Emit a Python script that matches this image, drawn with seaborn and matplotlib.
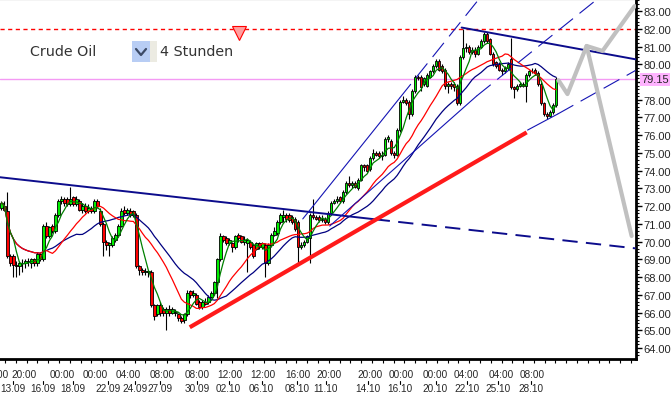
import numpy as np
import pandas as pd
import seaborn as sns
import matplotlib.pyplot as plt
from matplotlib.ticker import MultipleLocator, NullFormatter
from matplotlib.patches import Rectangle
from matplotlib.lines import Line2D

# 4h candles, Crude Oil, 13.09 - 28.10
opens = [71.9, 72.0, 71.7, 69.2, 69.2, 68.7, 68.6, 68.8, 68.8, 68.9,
         68.8, 69.0, 68.8, 69.3, 69.0, 70.9, 70.3, 70.9, 70.6, 71.5,
         72.3, 72.4, 72.4, 72.1, 72.5, 72.1, 72.3, 71.8, 72.0, 71.7,
         71.9, 71.7, 72.3, 71.7, 71.0, 70.0, 69.8, 69.8, 70.1, 70.4,
         70.9, 71.8, 71.6, 71.7, 71.7, 71.5, 68.6, 68.4, 68.3, 68.3,
         68.3, 66.4, 65.9, 66.4, 66.2, 66.0, 66.2, 66.0, 66.0, 65.9,
         65.7, 65.6, 65.9, 67.2, 67.0, 67.0, 66.6, 66.3, 66.6, 66.6,
         66.9, 67.1, 67.7, 69.0, 70.3, 70.2, 69.9, 69.9, 69.7, 70.4,
         70.3, 70.0, 69.9, 70.0, 69.8, 69.6, 69.9, 69.7, 69.8, 68.8,
         69.8, 70.4, 70.5, 71.1, 71.4, 71.5, 71.5, 71.4, 71.3, 71.1,
         69.7, 69.8, 70.0, 70.2, 71.5, 71.4, 71.4, 71.2, 71.3, 71.1,
         71.6, 72.2, 72.3, 72.5, 72.3, 72.8, 73.3, 73.2, 73.3, 73.0,
         73.5, 74.3, 74.3, 74.1, 74.7, 75.0, 75.0, 74.8, 74.9, 75.8,
         75.7, 75.0, 74.9, 76.3, 77.9, 78.0, 77.9, 77.2, 78.5, 79.3,
         79.3, 78.9, 78.8, 79.3, 79.6, 79.9, 80.2, 79.9, 79.7, 78.8,
         78.9, 78.9, 78.8, 77.8, 80.4, 80.9, 81.0, 80.7, 80.8, 80.6,
         81.0, 81.3, 81.7, 81.4, 80.6, 80.1, 80.0, 79.7, 79.6, 79.8,
         80.3, 78.7, 78.6, 78.8, 78.9, 78.8, 79.4, 79.6, 79.7, 79.5,
         78.9, 77.8, 77.2, 77.1, 77.3, 77.7]
highs = [72.3, 72.3, 72.8, 69.3, 69.3, 68.9, 68.9, 69.0, 69.0, 69.1,
         69.1, 69.1, 69.4, 69.4, 71.0, 71.1, 70.9, 71.0, 71.6, 72.4,
         72.6, 72.5, 72.5, 73.1, 72.6, 72.6, 72.4, 72.2, 72.2, 72.1,
         72.0, 72.4, 72.4, 71.9, 71.1, 70.1, 70.0, 70.3, 70.5, 71.0,
         71.9, 72.0, 71.9, 71.9, 71.8, 71.6, 68.7, 68.5, 68.5, 68.4,
         68.4, 66.5, 66.5, 66.6, 66.3, 66.3, 66.4, 66.3, 66.2, 66.0,
         65.8, 66.0, 67.3, 67.3, 67.3, 67.1, 66.7, 66.7, 66.8, 67.0,
         67.2, 67.8, 69.1, 70.5, 70.4, 70.3, 70.2, 70.0, 70.4, 70.5,
         70.4, 70.3, 70.2, 70.1, 69.9, 70.0, 70.0, 70.0, 69.9, 69.9,
         70.5, 70.8, 71.2, 71.6, 71.8, 71.6, 71.6, 71.5, 71.4, 71.2,
         70.0, 70.1, 70.4, 71.6, 72.4, 71.5, 71.5, 71.5, 71.4, 71.7,
         72.3, 72.4, 72.6, 72.6, 72.9, 73.4, 73.7, 73.4, 73.4, 73.6,
         74.4, 74.4, 74.4, 74.8, 75.2, 75.1, 75.1, 75.1, 75.9, 76.0,
         75.8, 75.1, 76.4, 78.0, 78.2, 78.1, 78.0, 78.6, 79.4, 79.4,
         79.4, 79.3, 79.5, 79.7, 80.0, 80.3, 80.3, 80.0, 79.8, 79.0,
         79.0, 79.0, 78.9, 80.5, 82.0, 81.2, 81.1, 81.0, 81.0, 81.1,
         81.4, 81.8, 81.8, 81.5, 80.7, 80.2, 80.1, 79.8, 79.9, 80.1,
         81.5, 78.8, 78.9, 79.0, 79.0, 79.5, 79.7, 79.8, 79.8, 79.6,
         79.0, 77.9, 77.3, 77.4, 77.8, 79.3]
lows = [71.8, 71.7, 69.1, 68.6, 68.0, 68.0, 68.1, 68.3, 68.5, 68.6,
        68.5, 68.6, 68.6, 68.9, 68.9, 70.2, 70.2, 70.5, 70.5, 71.4,
        72.1, 72.0, 72.0, 72.0, 72.0, 72.0, 71.7, 71.6, 71.6, 71.6,
        71.6, 71.6, 71.9, 70.9, 69.2, 69.5, 69.2, 69.7, 70.0, 70.3,
        70.8, 71.5, 71.5, 71.4, 71.4, 68.5, 68.1, 68.1, 68.1, 68.0,
        66.3, 65.6, 65.8, 65.8, 65.8, 65.0, 65.8, 65.9, 65.8, 65.5,
        65.4, 65.4, 65.8, 66.8, 66.9, 66.4, 66.2, 66.2, 66.4, 66.5,
        66.8, 67.0, 66.8, 68.9, 70.0, 69.8, 69.8, 69.4, 69.6, 70.0,
        69.9, 69.8, 68.3, 69.6, 69.1, 69.5, 69.6, 69.6, 68.0, 68.7,
        69.7, 70.3, 70.4, 71.0, 71.1, 71.1, 71.1, 71.0, 70.6, 68.8,
        69.6, 69.7, 69.9, 68.8, 71.3, 71.2, 71.1, 71.1, 71.0, 71.0,
        71.5, 72.1, 72.2, 72.2, 72.2, 72.7, 73.1, 73.0, 73.0, 72.9,
        73.4, 74.0, 73.9, 74.0, 74.6, 74.8, 74.7, 74.6, 74.8, 75.6,
        74.9, 74.7, 74.8, 76.2, 77.8, 77.7, 76.9, 77.1, 78.4, 79.1,
        78.5, 78.8, 78.7, 79.2, 79.5, 79.8, 79.6, 79.5, 78.6, 78.4,
        78.6, 78.5, 77.7, 77.7, 80.3, 80.7, 80.6, 80.6, 80.4, 80.5,
        80.9, 81.2, 81.2, 80.5, 79.9, 79.8, 79.6, 79.4, 79.5, 79.7,
        78.6, 78.1, 78.5, 78.7, 78.7, 77.9, 79.3, 79.5, 79.4, 78.8,
        77.7, 77.1, 76.9, 77.0, 77.2, 77.6]
closes = [72.2, 71.8, 69.2, 68.8, 68.7, 68.6, 68.8, 68.8, 68.9, 68.9,
          69.0, 68.8, 69.3, 69.0, 70.9, 70.3, 70.8, 70.6, 71.5, 72.3,
          72.4, 72.2, 72.1, 72.4, 72.1, 72.4, 71.8, 72.0, 71.7, 71.9,
          71.7, 72.3, 72.0, 71.0, 70.0, 69.8, 69.9, 70.2, 70.4, 70.9,
          71.7, 71.6, 71.8, 71.5, 71.5, 68.6, 68.4, 68.3, 68.3, 68.3,
          66.4, 65.8, 66.4, 66.0, 66.0, 66.2, 66.0, 66.2, 66.0, 65.7,
          65.5, 65.9, 67.1, 67.0, 67.1, 66.5, 66.3, 66.6, 66.5, 66.9,
          67.1, 67.7, 69.0, 70.3, 70.1, 69.9, 70.1, 69.7, 70.3, 70.2,
          70.0, 70.1, 70.1, 69.7, 69.2, 69.9, 69.7, 69.9, 68.8, 69.8,
          70.4, 70.6, 71.1, 71.5, 71.5, 71.3, 71.2, 71.1, 70.7, 69.7,
          69.8, 70.0, 70.3, 71.5, 71.4, 71.3, 71.2, 71.3, 71.1, 71.6,
          72.2, 72.3, 72.4, 72.3, 72.8, 73.3, 73.2, 73.3, 73.1, 73.5,
          74.3, 74.2, 74.0, 74.7, 75.0, 74.9, 74.8, 74.9, 75.8, 75.9,
          75.0, 74.9, 76.3, 77.9, 78.0, 77.8, 77.2, 78.5, 79.3, 79.2,
          78.7, 79.2, 79.4, 79.6, 79.9, 80.2, 79.7, 79.6, 78.8, 78.9,
          78.8, 78.7, 77.8, 80.4, 80.9, 81.0, 80.7, 80.8, 80.6, 81.0,
          81.3, 81.7, 81.3, 80.6, 80.0, 79.9, 79.7, 79.6, 79.8, 80.0,
          78.7, 78.6, 78.8, 78.9, 78.8, 79.4, 79.6, 79.6, 79.5, 78.9,
          77.8, 77.2, 77.1, 77.3, 77.7, 79.15]

# x-axis labels (candle index positions)
time_labels = ["00:00", "20:00", "00:00", "00:00", "04:00", "08:00", "08:00", "12:00", "12:00",
               "16:00", "20:00", "20:00", "00:00", "00:00", "04:00", "04:00", "08:00"]
time_pos = [-1.8, 7.5, 20.2, 31.2, 42.2, 53.5, 65.2, 76.2, 87.2, 98.8, 109.2, 122.8, 133.5,
            144.8, 155.2, 166.8, 177.2]
date_labels = ["13.09", "16.09", "18.09", "22.09", "24.09", "27.09", "30.09", "02.10", "06.10",
               "08.10", "11.10", "14.10", "16.10", "20.10", "22.10", "25.10", "28.10"]
date_pos = [3.8, 13.8, 23.8, 35.5, 44.6, 52.8, 65.2, 75.8, 86.8, 98.5, 108.2, 122.2, 132.8,
            144.8, 155.2, 165.5, 176.8]

# drawn lines (index, price)
downtrend_x, downtrend_y = [-0.5, 124.5, 211.5], [73.63, 71.26, 69.62]
support_x, support_y = [62.8, 175.2], [65.17, 76.16]
chan_up_x, chan_up_y = [100.5, 132.8, 159.3], [71.28, 78.09, 83.68]
chan_lo_x, chan_lo_y = [109.5, 158.5, 198.8], [70.88, 78.21, 83.68]
resist_x, resist_y = [153.5, 211.5], [82.07, 80.28]
lower_x, lower_y = [175.5, 185.5, 211.5], [76.29, 77.19, 79.65]
proj_x, proj_y = [185.8, 188.8, 195.2, 200.5, 211.2], [79.1, 78.32, 81.03, 80.75, 83.28]
proj2_x, proj2_y = [195.2, 210.2], [81.03, 70.32]

last_price = 79.15
alert_price = 82.0
alert_x = 79.3

sns.set_style("white")
plt.rcParams['font.family'] = ['Liberation Sans', 'DejaVu Sans']
plt.rcParams['lines.scale_dashes'] = False

df = pd.DataFrame({'open': opens, 'high': highs, 'low': lows, 'close': closes})
df['idx'] = np.arange(len(df))
df['ma_fast'] = df['close'].rolling(5, min_periods=1).mean()
df['ma_mid'] = df['close'].rolling(16, min_periods=1).mean()
df['ma_slow'] = df['close'].rolling(26, min_periods=1).mean()

fig = plt.figure(figsize=(6.71, 4.02), dpi=100)
ax = fig.add_axes([0, 1 - 359.5 / 402, 635.5 / 671, 359.5 / 402])

ax.axhline(last_price, color='#f49af4', lw=1, zorder=1)
ax.axhline(alert_price, color='#ff0000', lw=1, dashes=(3, 2.5), zorder=1)

# candles
up = df['close'] >= df['open']
ax.vlines(df['idx'], df['low'], df['high'], color='black', lw=0.8, zorder=2)
body = (df['close'] - df['open']).where((df['close'] - df['open']).abs() > 0.02, 0.02)
ax.bar(df['idx'], body, bottom=df['open'], width=0.82,
       color=np.where(up, '#00ee00', '#ff0000'), edgecolor='black', linewidth=0.6, zorder=3)

# moving averages
sns.lineplot(data=df, x='idx', y='ma_slow', color='#000080', lw=0.9, ax=ax, zorder=4)
sns.lineplot(data=df, x='idx', y='ma_mid', color='#ff0000', lw=0.9, ax=ax, zorder=4)
sns.lineplot(data=df, x='idx', y='ma_fast', color='#008000', lw=0.9, ax=ax, zorder=4)

# trend lines
navy = '#0c0c8c'
blue = '#1414b4'
ax.plot(downtrend_x[:2], downtrend_y[:2], color=navy, lw=1.4, zorder=5)
ax.plot(downtrend_x[1:], downtrend_y[1:], color=navy, lw=1.4, dashes=(11, 6), zorder=5)
ax.plot(chan_up_x[:2], chan_up_y[:2], color=blue, lw=0.8, zorder=5)
ax.plot(chan_up_x[1:], chan_up_y[1:], color=blue, lw=0.8, dashes=(13, 6), zorder=5)
ax.plot(chan_lo_x[:2], chan_lo_y[:2], color=blue, lw=0.8, zorder=5)
ax.plot(chan_lo_x[1:], chan_lo_y[1:], color=blue, lw=0.8, dashes=(13, 6), zorder=5)
ax.plot(resist_x, resist_y, color=navy, lw=1.4, zorder=5)
ax.plot(lower_x[:2], lower_y[:2], color=blue, lw=0.8, zorder=5)
ax.plot(lower_x[1:], lower_y[1:], color=blue, lw=0.8, dashes=(13, 6), zorder=5)
ax.plot(support_x, support_y, color='#ff1a1a', lw=3, solid_capstyle='butt', zorder=6)
ax.plot(proj_x, proj_y, color='#c0c0c0', lw=3, zorder=6)
ax.plot(proj2_x, proj2_y, color='#c0c0c0', lw=3, zorder=6)

ax.plot([alert_x], [81.76], marker='v', ms=10, mfc='#ffa0a0', mec='#ff0000', mew=0.8,
        linestyle='none', zorder=7)

ax.set_xlim(-0.5, 211.5)
ax.set_ylim(63.41, 83.68)
ax.set_xlabel('')
ax.set_ylabel('')

# axes frame
ax.spines['left'].set_visible(False)
for side, w in [('top', 1.5), ('right', 2), ('bottom', 2)]:
    ax.spines[side].set_color('black')
    ax.spines[side].set_linewidth(w)

# y axis on the right
ax.yaxis.tick_right()
yt = list(range(64, 84))
ax.set_yticks(yt)
ax.set_yticklabels(['' if v == 79 else f'{v:.2f}' for v in yt])
ax.yaxis.set_minor_locator(MultipleLocator(0.2))
ax.tick_params(axis='y', which='major', direction='out', length=4, width=1, color='black',
               labelsize=8, pad=1.5, right=True, left=False)
ax.tick_params(axis='y', which='minor', direction='out', length=2, width=0.8, color='black',
               right=True, left=False)
ax.text(1.009, last_price, f'{last_price:.2f}', transform=ax.get_yaxis_transform(),
        ha='left', va='center', fontsize=8,
        bbox=dict(boxstyle='square,pad=0.12', fc='#ffb3ff', ec='none'))

# x axis
ax.xaxis.set_major_locator(MultipleLocator(3.6, offset=1.2))
ax.xaxis.set_major_formatter(NullFormatter())
ax.tick_params(axis='x', direction='out', length=3, width=0.8, color='black', bottom=True)
xt = ax.get_xaxis_transform()
for lab, p in zip(time_labels, time_pos):
    ax.text(p, -0.0445, lab, transform=xt, ha='center', va='center', fontsize=7.2, clip_on=False)
for lab, p in zip(date_labels, date_pos):
    ax.text(p, -0.082, lab, transform=xt, ha='center', va='center', fontsize=7.2, clip_on=False)
    ax.plot([p, p], [-0.0625, -0.0705], transform=xt, color='black', lw=0.8, clip_on=False)

# header
fig.text(30 / 671, 1 - 52 / 402, 'Crude Oil', fontsize=10.3, color='#333333', va='center',
         family='DejaVu Sans')
fig.patches.append(Rectangle((132 / 671, 1 - 63 / 402), 18 / 671, 21 / 402,
                             transform=fig.transFigure, fc='#b8cdf4', ec='none'))
fig.patches.append(Rectangle((150 / 671, 1 - 63 / 402), 7 / 671, 21 / 402,
                             transform=fig.transFigure, fc='#ecebe2', ec='none'))
fig.lines.append(Line2D([136 / 671, 141 / 671, 146 / 671],
                        [1 - 50 / 402, 1 - 56 / 402, 1 - 50 / 402],
                        transform=fig.transFigure, color='#3c4a66', lw=1.6))
fig.text(160 / 671, 1 - 52 / 402, '4 Stunden', fontsize=10.3, color='#333333', va='center',
         family='DejaVu Sans')

fig.savefig('out.png', dpi=100)
